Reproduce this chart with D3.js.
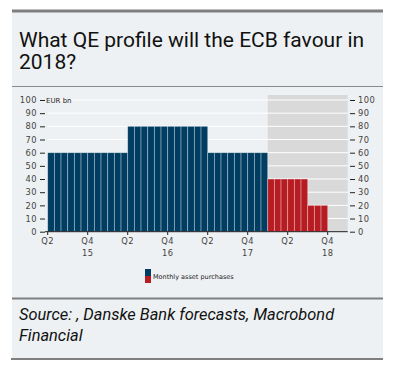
<!DOCTYPE html>
<html><head><meta charset="utf-8">
<script src="https://cdn.jsdelivr.net/npm/d3@7"></script>
<style>body{margin:0;background:#fff}svg{display:block}</style>
</head><body>
<script>
const months = ["2015-04","2015-05","2015-06","2015-07","2015-08","2015-09","2015-10","2015-11","2015-12",
"2016-01","2016-02","2016-03","2016-04","2016-05","2016-06","2016-07","2016-08","2016-09","2016-10","2016-11","2016-12",
"2017-01","2017-02","2017-03","2017-04","2017-05","2017-06","2017-07","2017-08","2017-09","2017-10","2017-11","2017-12",
"2018-01","2018-02","2018-03","2018-04","2018-05","2018-06","2018-07","2018-08","2018-09","2018-10","2018-11","2018-12"];
const purchases = [60,60,60,60,60,60,60,60,60,60,60,60,
80,80,80,80,80,80,80,80,80,80,80,80,
60,60,60,60,60,60,60,60,60,
40,40,40,40,40,40,20,20,20,0,0,0];
const forecastStart = "2018-01";
const yTicks = [0,10,20,30,40,50,60,70,80,90,100];
const xTickMonths = ["2015-04","2015-10","2016-04","2016-10","2017-04","2017-10","2018-04","2018-10"];
const xTickLabels = ["Q2","Q4","Q2","Q4","Q2","Q4","Q2","Q4"];
const yearLabels = ["15","16","17","18"];
const yearMonths = ["2015-10","2016-10","2017-10","2018-10"];
const title = ["What QE profile will the ECB favour in","2018?"];
const source = ["Source: , Danske Bank forecasts, Macrobond","Financial"];

const W=393,H=375;
const svg=d3.select("body").append("svg").attr("width",W).attr("height",H);
// panel
svg.append("rect").attr("x",12).attr("y",10).attr("width",371).attr("height",349).attr("fill","#eef1f3");
svg.append("line").attr("x1",12).attr("x2",383).attr("y1",11).attr("y2",11).attr("stroke","#7f7f7f").attr("stroke-width",3);
svg.append("line").attr("x1",12).attr("x2",383).attr("y1",86.5).attr("y2",86.5).attr("stroke","#8a8a8a").attr("stroke-width",1.2);
svg.append("line").attr("x1",12).attr("x2",383).attr("y1",298.5).attr("y2",298.5).attr("stroke","#7f7f7f").attr("stroke-width",2);
svg.append("line").attr("x1",11).attr("x2",383).attr("y1",359).attr("y2",359).attr("stroke","#7f7f7f").attr("stroke-width",2);

svg.selectAll("text.title").data(title).join("text").attr("class","title")
  .attr("x",19).attr("y",(d,i)=>47+i*22).text(d=>d)
  .attr("font-family","Roboto, sans-serif").attr("font-size",21).attr("fill","#111");

svg.selectAll("text.src").data(source).join("text").attr("class","src")
  .attr("x",19).attr("y",(d,i)=>320+i*21).text(d=>d)
  .attr("font-family","Roboto, sans-serif").attr("font-style","italic").attr("font-size",16.4).attr("fill","#111");

const x=d3.scaleBand().domain(months).range([47.7,347.7]).padding(0);
const y=d3.scaleLinear().domain([0,100]).range([231.7,100]);

// forecast shading
svg.append("rect").attr("x",x(forecastStart)).attr("y",95).attr("width",347.7-x(forecastStart)).attr("height",231.7-95).attr("fill","#d9d9d9");

// gridlines
svg.selectAll("line.grid").data(yTicks.filter(d=>d>0)).join("line")
  .attr("x1",47.7).attr("x2",347.7).attr("y1",d=>y(d)).attr("y2",d=>y(d))
  .attr("stroke","#fff").attr("stroke-width",1);

// bars
svg.selectAll("rect.bar").data(months).join("rect").attr("class","bar")
  .attr("x",d=>x(d)).attr("width",x.bandwidth())
  .attr("y",(d,i)=>y(purchases[i])).attr("height",(d,i)=>y(0)-y(purchases[i]))
  .attr("fill",d=>d>=forecastStart?"#b71c22":"#003d62")
  .attr("stroke",(d,i)=>purchases[i]>0?"rgba(255,255,255,0.4)":"rgba(255,200,200,0.8)").attr("stroke-width",0.8);

const font="DejaVu Sans, sans-serif";
const tfs=8.3, ls=0.5;
// y axes
const yl=svg.append("g").attr("transform","translate(45,0)")
  .call(d3.axisLeft(y).tickValues(yTicks).tickSize(5).tickPadding(3));
const yr=svg.append("g").attr("transform","translate(350,0)")
  .call(d3.axisRight(y).tickValues(yTicks).tickSize(5).tickPadding(3));
[yl,yr].forEach(g=>{g.select(".domain").remove();
  g.selectAll("line").attr("stroke","#222");
  g.selectAll("text").attr("font-family",font).attr("font-size",tfs).attr("letter-spacing",ls).attr("fill","#444");});

// x axis
svg.append("line").attr("x1",45).attr("x2",347.7).attr("y1",231.7).attr("y2",231.7).attr("stroke","#222").attr("stroke-width",1);
const xa=svg.append("g");
xa.selectAll("line").data(xTickMonths).join("line")
  .attr("x1",d=>x(d)).attr("x2",d=>x(d)).attr("y1",231.7).attr("y2",235).attr("stroke","#222");
xa.selectAll("text.q").data(xTickMonths).join("text").attr("class","q")
  .attr("x",d=>x(d)).attr("y",244).attr("text-anchor","middle").text((d,i)=>xTickLabels[i])
  .attr("font-family",font).attr("font-size",tfs).attr("letter-spacing",ls).attr("fill","#444");
xa.selectAll("text.yr").data(yearMonths).join("text").attr("class","yr")
  .attr("x",d=>x(d)).attr("y",256).attr("text-anchor","middle").text((d,i)=>yearLabels[i])
  .attr("font-family",font).attr("font-size",tfs).attr("letter-spacing",ls).attr("fill","#444");

svg.append("text").attr("x",46).attr("y",103).text("EUR bn")
  .attr("font-family",font).attr("font-size",7).attr("fill","#222");

// legend
svg.append("rect").attr("x",145).attr("y",269).attr("width",6).attr("height",7).attr("fill","#003d62");
svg.append("rect").attr("x",145).attr("y",276).attr("width",6).attr("height",7).attr("fill","#b71c22");
svg.append("text").attr("x",153).attr("y",278.5).text("Monthly asset purchases")
  .attr("font-family",font).attr("font-size",6.5).attr("fill","#222");
</script>
</body></html>
